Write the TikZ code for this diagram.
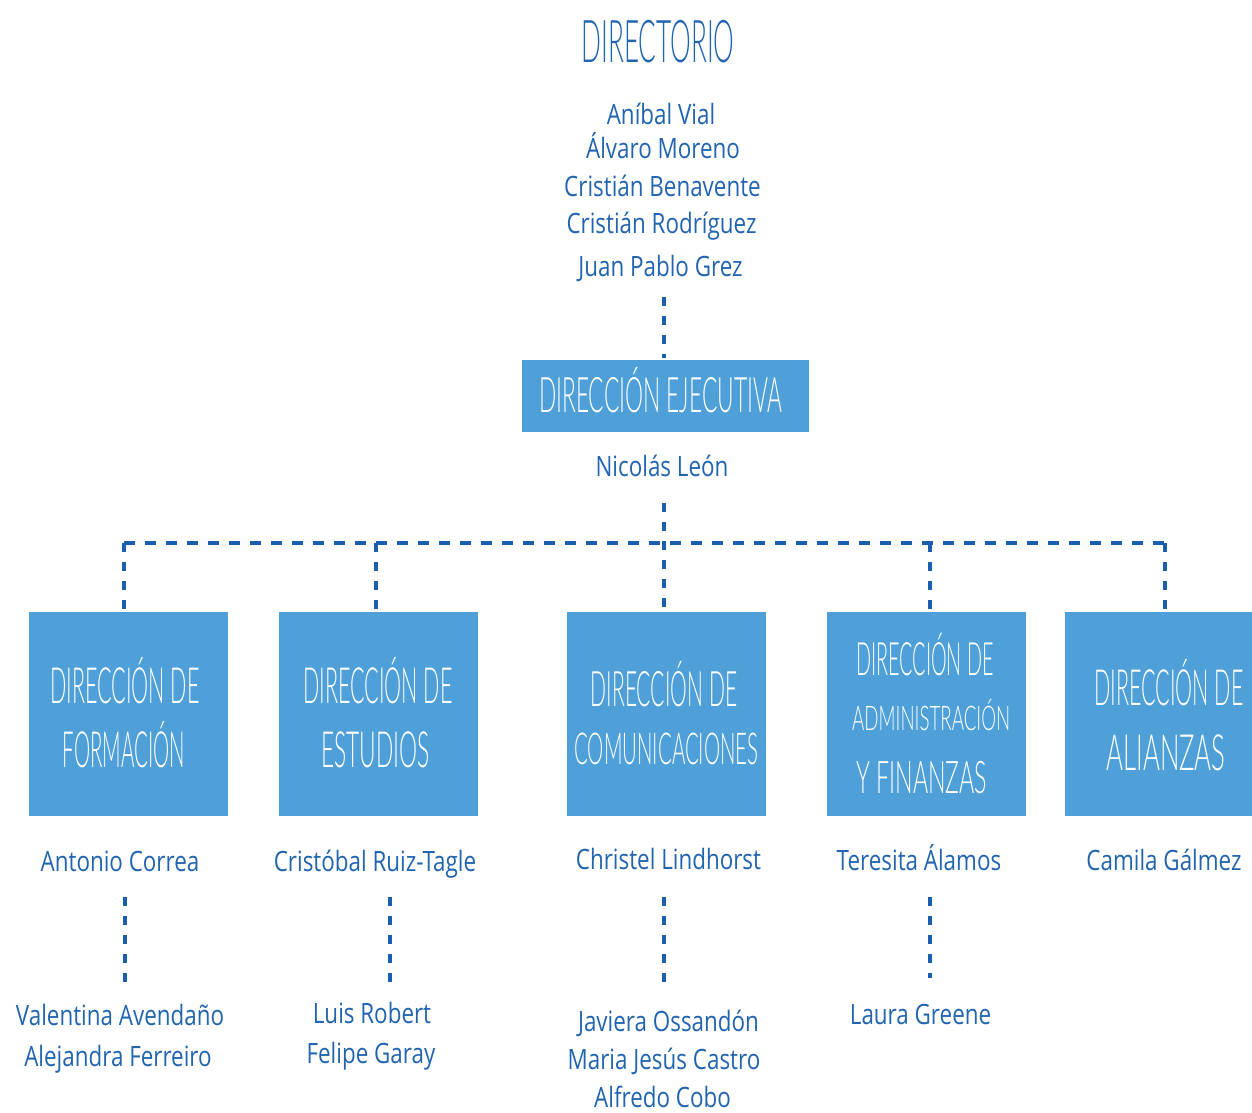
\documentclass[tikz,border=0pt]{standalone}
\usepackage{fontspec}
\setmainfont[FakeStretch=0.8]{Open Sans}
\newfontfamily\hand[FakeStretch=0.43]{Lato Light}
\definecolor{txtblue}{RGB}{33,100,175}
\definecolor{lineblue}{RGB}{26,95,173}
\definecolor{boxblue}{RGB}{79,160,216}
\tikzset{
  person/.style={anchor=base,inner sep=0pt,text=txtblue,font=\fontsize{28}{30}\selectfont},
  handtitle/.style={anchor=base,inner sep=0pt,text=txtblue,font=\hand\fontsize{59}{60}\selectfont},
  handbox/.style={anchor=base,inner sep=0pt,text=white},
  dirbox/.style={fill=boxblue,draw=none,inner sep=0pt,minimum width=199pt,minimum height=204pt},
  link/.style={draw=lineblue,line width=4pt,dash pattern=on 9pt off 10pt},
  hlink/.style={draw=lineblue,line width=4pt,dash pattern=on 11pt off 10pt}
}
\begin{document}
\begin{tikzpicture}[x=1pt,y=-1pt]
\useasboundingbox (0,0) rectangle (1252,1112);
% title and board
\node[handtitle] (dir) at (658,62) {\scalebox{1.03}[1]{DIRECTORIO}};
\node[person] (n1) at (661,124) {Aníbal Vial};
\node[person] (n2) at (663,158) {Álvaro Moreno};
\node[person] (n3) at (662.5,196) {Cristián Benavente};
\node[person] (n4) at (661.5,233) {Cristián Rodríguez};
\node[person] (n5) at (660.5,276) {Juan Pablo Grez};
% executive
\node[fill=boxblue,inner sep=0pt,minimum width=287pt,minimum height=72pt] (exec) at (665.5,396) {};
\node[handbox,font=\hand\fontsize{49}{50}\selectfont] (exect) at (660.5,412) {\scalebox{1.08}[1]{DIRECCIÓN EJECUTIVA}};
\node[person] (nl) at (662,476) {Nicolás León};
% boxes
\node[dirbox] (b1) at (128.5,714) {};
\node[dirbox] (b2) at (378.5,714) {};
\node[dirbox] (b3) at (666.5,714) {};
\node[dirbox] (b4) at (926.5,714) {};
\node[dirbox] (b5) at (1164.5,714) {};
\node[handbox,font=\hand\fontsize{50}{50}\selectfont] (b1a) at (125,703) {DIRECCIÓN DE};
\node[handbox,font=\hand\fontsize{50}{50}\selectfont] (b1b) at (124,767) {\scalebox{0.95}[1]{FORMACIÓN}};
\node[handbox,font=\hand\fontsize{50}{50}\selectfont] (b2a) at (378,703) {DIRECCIÓN DE};
\node[handbox,font=\hand\fontsize{50}{50}\selectfont] (b2b) at (375.5,767) {\scalebox{1.06}[1]{ESTUDIOS}};
\node[handbox,font=\hand\fontsize{49}{50}\selectfont] (b3a) at (664,706) {DIRECCIÓN DE};
\node[handbox,font=\hand\fontsize{44}{50}\selectfont] (b3b) at (666.5,764) {\scalebox{1.08}[1]{COMUNICACIONES}};
\node[handbox,font=\hand\fontsize{46}{50}\selectfont,anchor=base west] (b4a) at (856,675) {DIRECCIÓN DE};
\node[handbox,font=\hand\fontsize{34}{50}\selectfont,anchor=base west] (b4b) at (852,730) {\scalebox{1.28}[1]{ADMINISTRACIÓN}};
\node[handbox,font=\hand\fontsize{45}{50}\selectfont,anchor=base west] (b4c) at (856,793) {\scalebox{1.2}[1]{Y FINANZAS}};
\node[handbox,font=\hand\fontsize{50}{50}\selectfont] (b5a) at (1169,705) {DIRECCIÓN DE};
\node[handbox,font=\hand\fontsize{50}{50}\selectfont] (b5b) at (1166,770) {\scalebox{1.2}[1]{ALIANZAS}};
% heads
\node[person] (p1) at (120,871) {Antonio Correa};
\node[person] (p2) at (375,871) {Cristóbal Ruiz-Tagle};
\node[person] (p3) at (668.5,869) {Christel Lindhorst};
\node[person] (p4) at (919,870) {Teresita Álamos};
\node[person] (p5) at (1164,870) {Camila Gálmez};
% staff
\node[person] (s1a) at (120,1025) {Valentina Avendaño};
\node[person] (s1b) at (118,1066) {Alejandra Ferreiro};
\node[person] (s2a) at (372,1023) {Luis Robert};
\node[person] (s2b) at (371,1063) {Felipe Garay};
\node[person] (s3a) at (668.5,1031) {Javiera Ossandón};
\node[person] (s3b) at (664,1069) {Maria Jesús Castro};
\node[person] (s3c) at (662.5,1107) {Alfredo Cobo};
\node[person] (s4a) at (920.5,1024) {Laura Greene};
% connector coordinates
\coordinate (t0) at (664,297);
\coordinate (t1) at (664,358);
\coordinate (m0) at (664,503);
\coordinate (h1) at (124,543);
\coordinate (h2) at (376,543);
\coordinate (h4) at (930,543);
\coordinate (h5) at (1165,543);
\coordinate (v1) at (124,610);
\coordinate (v2) at (376,610);
\coordinate (v3) at (664,612);
\coordinate (v4) at (930,610);
\coordinate (v5) at (1165,610);
\coordinate (l1a) at (125,897); \coordinate (l1b) at (125,986);
\coordinate (l2a) at (390,897); \coordinate (l2b) at (390,986);
\coordinate (l3a) at (664,897); \coordinate (l3b) at (664,983);
\coordinate (l4a) at (930,897); \coordinate (l4b) at (930,978);
\draw[link] (t0) -- (t1);
\draw[link] (m0) -- (v3);
\draw[hlink] (h1) -- (h5);
\draw[link] (h1) -- (v1);
\draw[link] (h2) -- (v2);
\draw[link] (h4) -- (v4);
\draw[link] (h5) -- (v5);
\draw[link] (l1a) -- (l1b);
\draw[link] (l2a) -- (l2b);
\draw[link] (l3a) -- (l3b);
\draw[link] (l4a) -- (l4b);
\end{tikzpicture}
\end{document}
